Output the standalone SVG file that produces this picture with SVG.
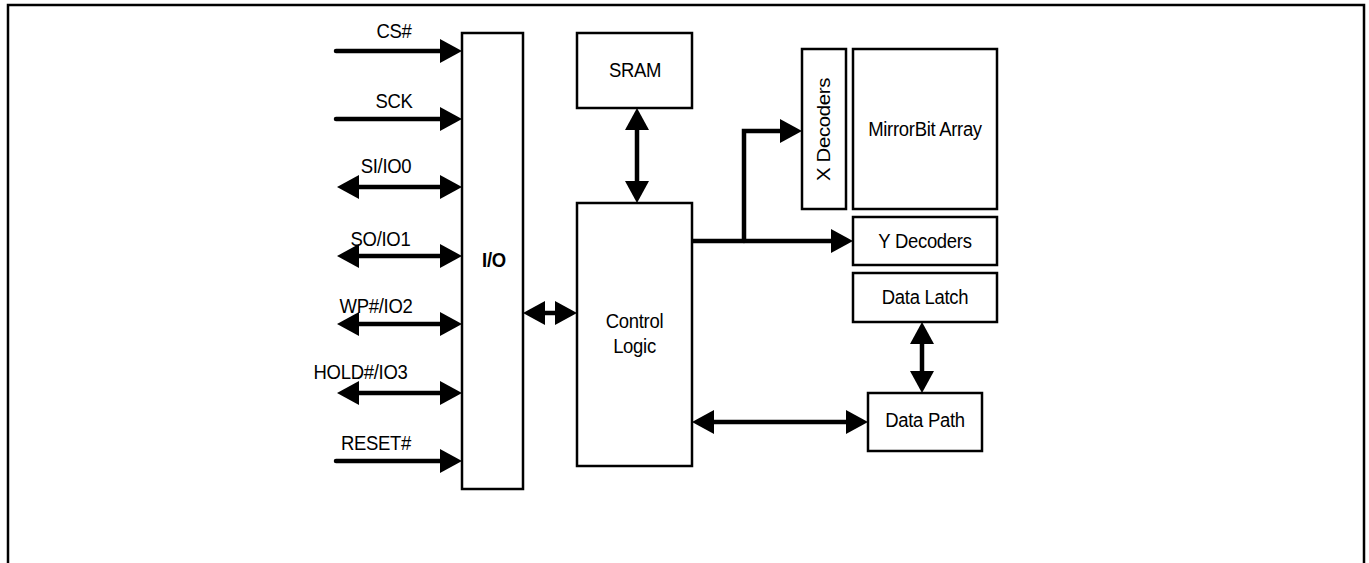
<svg xmlns="http://www.w3.org/2000/svg" width="1369" height="563" viewBox="0 0 1369 563">
<defs>
<style>
.box{fill:#fff;stroke:#000;stroke-width:2.5}
.t{font-family:"Liberation Sans",Arial,sans-serif;font-size:18.5px;letter-spacing:-0.3px;fill:#000;text-anchor:middle}
.b{font-weight:bold}
.c{fill:none;stroke:#000;stroke-width:4.5;stroke-linecap:round;stroke-linejoin:miter}
</style>
<marker id="ah" viewBox="0 0 22 24" refX="10" refY="12" markerWidth="22" markerHeight="24" markerUnits="userSpaceOnUse" orient="auto-start-reverse">
<path d="M0,0 L22,12 L0,24 z" fill="#000"/>
</marker>
</defs>
<rect width="1369" height="563" fill="#fff"/>
<path d="M8,563 V5 H1364 V563" fill="none" stroke="#000" stroke-width="2.5"/>

<g id="connectors">
<line class="c" x1="336" y1="51" x2="450" y2="51" marker-end="url(#ah)"/>
<line class="c" x1="336" y1="119" x2="450" y2="119" marker-end="url(#ah)"/>
<line class="c" x1="349" y1="187" x2="450" y2="187" marker-start="url(#ah)" marker-end="url(#ah)"/>
<line class="c" x1="349" y1="256" x2="450" y2="256" marker-start="url(#ah)" marker-end="url(#ah)"/>
<line class="c" x1="349" y1="324" x2="450" y2="324" marker-start="url(#ah)" marker-end="url(#ah)"/>
<line class="c" x1="349" y1="393" x2="450" y2="393" marker-start="url(#ah)" marker-end="url(#ah)"/>
<line class="c" x1="336" y1="461" x2="450" y2="461" marker-end="url(#ah)"/>
<line class="c" x1="535" y1="313" x2="565" y2="313" marker-start="url(#ah)" marker-end="url(#ah)"/>
<line class="c" x1="637" y1="120" x2="637" y2="191" marker-start="url(#ah)" marker-end="url(#ah)"/>
<line class="c" x1="693" y1="241" x2="841" y2="241" marker-end="url(#ah)"/>
<path class="c" d="M744,241 V131 H790" marker-end="url(#ah)"/>
<line class="c" x1="704" y1="422" x2="856" y2="422" marker-start="url(#ah)" marker-end="url(#ah)"/>
<line class="c" x1="922" y1="334" x2="922" y2="381" marker-start="url(#ah)" marker-end="url(#ah)"/>
</g>

<g id="signals">
<text class="t" transform="translate(394,38) scale(1,1.1)">CS#</text>
<text class="t" transform="translate(394,108) scale(1,1.1)">SCK</text>
<text class="t" transform="translate(386,173) scale(1,1.1)">SI/IO0</text>
<text class="t" transform="translate(380.5,245.5) scale(1,1.1)">SO/IO1</text>
<text class="t" transform="translate(376,312.5) scale(1,1.1)">WP#/IO2</text>
<text class="t" transform="translate(360.5,379) scale(1,1.1)">HOLD#/IO3</text>
<text class="t" transform="translate(376,450) scale(1,1.1)">RESET#</text>
</g>

<g id="io">
<rect class="box" x="462" y="33" width="61" height="456"/>
<text class="t b" transform="translate(494,267) scale(1,1.1)">I/O</text>
</g>
<g id="sram">
<rect class="box" x="577" y="33" width="115" height="75"/>
<text class="t" transform="translate(635,77) scale(1,1.1)">SRAM</text>
</g>
<g id="control">
<rect class="box" x="577" y="203" width="115" height="263"/>
<text class="t" transform="translate(634.5,328) scale(1,1.1)">Control</text>
<text class="t" transform="translate(634.5,353) scale(1,1.1)">Logic</text>
</g>
<g id="xdec">
<rect class="box" x="802" y="49" width="44" height="160"/>
<text class="t" transform="translate(830,129.5) rotate(-90) scale(1.1,1)">X Decoders</text>
</g>
<g id="array">
<rect class="box" x="853" y="49" width="144" height="160"/>
<text class="t" transform="translate(925,136) scale(1,1.1)">MirrorBit Array</text>
</g>
<g id="ydec">
<rect class="box" x="853" y="217" width="144" height="48"/>
<text class="t" transform="translate(925,248) scale(1,1.1)">Y Decoders</text>
</g>
<g id="latch">
<rect class="box" x="853" y="273" width="144" height="49"/>
<text class="t" transform="translate(925,304) scale(1,1.1)">Data Latch</text>
</g>
<g id="datapath">
<rect class="box" x="868" y="393" width="114" height="58"/>
<text class="t" transform="translate(925,427) scale(1,1.1)">Data Path</text>
</g>
</svg>
